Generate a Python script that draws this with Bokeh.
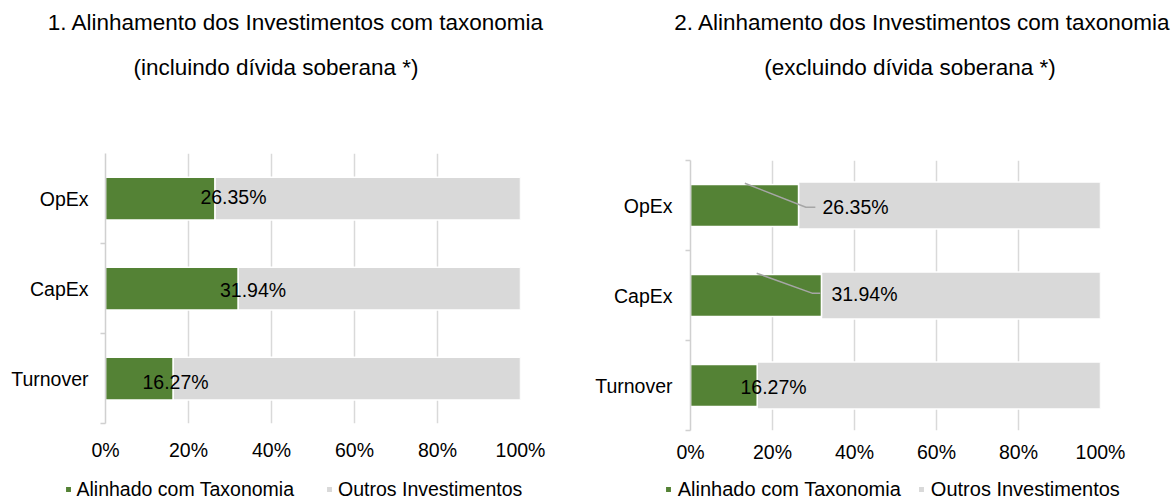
from bokeh.plotting import figure
from bokeh.layouts import row, column
from bokeh.models import (Range1d, FixedTicker, Legend, LegendItem, Spacer,
                          ColumnDataSource, NumeralTickFormatter)
from bokeh.core.properties import value
from bokeh.embed import file_html
from bokeh.resources import INLINE

# ---------------- data ----------------
categories = ["Turnover", "CapEx", "OpEx"]          # bottom -> top
aligned_incl = [16.27, 31.94, 26.35]               # % aligned, chart 1
aligned_excl = [16.27, 31.94, 26.35]               # % aligned, chart 2
series_names = ["Alinhado com Taxonomia", "Outros Investimentos"]
x_ticks = [0, 0.2, 0.4, 0.6, 0.8, 1.0]
titles_1 = ["1. Alinhamento dos Investimentos com taxonomia",
            "(incluindo dívida soberana *)"]
titles_2 = ["2. Alinhamento dos Investimentos com taxonomia",
            "(excluindo dívida soberana *)"]

# ---------------- style / layout ----------------
FONT = "Liberation Sans"
GREEN = "#548235"
GRAY = "#D9D9D9"
AXIS_GRAY = "#D0D0D0"
LEADER = "#A6A6A6"
TOTAL_W = 1172
TITLE_H = 128
CHART_H = 335
CHART2_SHIFT = 7
LEG_H = 28
FRAME_TOP = 25
FRAME_H = 270


def bare_figure(w, h, x_range, y_range):
    f = figure(width=w, height=h, x_range=x_range, y_range=y_range,
               output_backend="svg", toolbar_location=None,
               x_axis_location=None, y_axis_location=None,
               min_border=0)
    f.grid.visible = False
    f.outline_line_color = None
    f.background_fill_color = "white"
    f.border_fill_color = "white"
    return f


def make_chart(aligned, cfg):
    p = figure(width=cfg["width"], height=CHART_H,
               x_range=Range1d(0, 1), y_range=Range1d(0, len(categories)),
               output_backend="svg", toolbar_location=None,
               min_border_left=cfg["bl"],
               min_border_right=cfg["width"] - cfg["bl"] - cfg["frame_w"],
               min_border_top=FRAME_TOP,
               min_border_bottom=CHART_H - FRAME_TOP - FRAME_H)
    p.outline_line_color = None
    p.background_fill_color = "white"
    p.border_fill_color = "white"

    ypos = [i + 0.5 for i in range(len(categories))]
    frac = [v / 100.0 for v in aligned]
    src = ColumnDataSource(dict(
        y=ypos, aligned=frac, total=[1.0] * len(categories),
        label=[f"{v:.2f}%" for v in aligned],
        dx=cfg["lab_dx"], dy=cfg["lab_dy"]))

    p.ygrid.visible = False
    p.xgrid.ticker = FixedTicker(ticks=x_ticks)
    p.xgrid.grid_line_color = GRAY
    p.xgrid.grid_line_width = 1.5

    xa = p.xaxis[0]
    xa.ticker = FixedTicker(ticks=x_ticks)
    xa.formatter = NumeralTickFormatter(format="0%")
    xa.axis_line_color = None
    xa.major_tick_line_color = None
    xa.major_tick_out = 0
    xa.major_tick_in = 0
    xa.minor_tick_line_color = None
    xa.major_label_standoff = cfg["x_standoff"]
    xa.major_label_text_font = FONT
    xa.major_label_text_font_size = "19.5px"
    xa.major_label_text_color = "black"

    ya = p.yaxis[0]
    ya.ticker = FixedTicker(ticks=ypos, minor_ticks=cfg["bounds"])
    ya.major_label_overrides = {y: c for y, c in zip(ypos, categories)}
    ya.axis_line_color = AXIS_GRAY
    ya.axis_line_width = 1.5
    ya.major_tick_line_color = None
    ya.major_tick_out = 0
    ya.major_tick_in = 0
    ya.minor_tick_line_color = AXIS_GRAY
    ya.minor_tick_line_width = 1.5
    ya.minor_tick_out = 5
    ya.minor_tick_in = 0
    ya.major_label_standoff = cfg["y_standoff"]
    ya.major_label_text_font = FONT
    ya.major_label_text_font_size = "19.5px"
    ya.major_label_text_color = "black"

    p.hbar(y="y", left="aligned", right="total", height=cfg["h_gray"],
           fill_color=GRAY, line_color="white", line_width=1.5, source=src)
    p.hbar(y="y", left=0, right="aligned", height=cfg["h_green"],
           fill_color=GREEN, line_color="white", line_width=1.5, source=src)

    for cat, (dxs, dys) in cfg.get("leaders", {}).items():
        i = categories.index(cat)
        p.line(x=[frac[i] + d for d in dxs], y=[ypos[i] + d for d in dys],
               line_color=LEADER, line_width=1.5)

    p.text(x="aligned", y="y", text="label", x_offset="dx", y_offset="dy",
           text_align="center", text_baseline="middle",
           text_font=value(FONT), text_font_size="19.5px", text_color="black",
           source=src)
    return p


cfg1 = dict(width=580, bl=105, frame_w=415,
            h_gray=0.475, h_green=0.475, bounds=[0, 1, 2],
            x_standoff=15, y_standoff=12,
            lab_dx=[2.5, 15, 18.6], lab_dy=[3, 1, -2])

cfg2 = dict(width=TOTAL_W - 580, bl=110, frame_w=410,
            h_gray=0.52, h_green=0.465, bounds=[0, 1, 2, 3],
            x_standoff=10, y_standoff=13,
            lab_dx=[16.3, 43, 57], lab_dy=[1, -2, 1.7],
            leaders={"OpEx": ([-0.131, 0.018, 0.041], [0.248, -0.019, -0.019]),
                     "CapEx": ([-0.158, -0.023, -0.0024], [0.248, 0.026, 0.026])})

p1 = make_chart(aligned_incl, cfg1)
p2 = make_chart(aligned_excl, cfg2)

# ---------------- titles ----------------
tf = bare_figure(TOTAL_W, TITLE_H, Range1d(0, TOTAL_W), Range1d(TITLE_H, 0))
title_src = ColumnDataSource(dict(
    text=titles_1 + titles_2,
    x=[295.5, 275.5, 922, 909.5],
    y=[22, 67, 22, 67]))
tf.text(x="x", y="y", text="text", source=title_src,
        text_align="center", text_baseline="middle",
        text_font=value(FONT), text_font_size="22.5px", text_color="black")

# ---------------- legends ----------------
lf = bare_figure(TOTAL_W, LEG_H, Range1d(0, TOTAL_W), Range1d(0, LEG_H))
# legend carriers: one bar each, placed outside the visible range
g_key = lf.hbar(y=[-100], left=[0], right=[1], height=1, fill_color=GREEN,
                line_color="white", line_width=1.5)
o_key = lf.hbar(y=[-100], left=[0], right=[1], height=1, fill_color=GRAY,
                line_color="white", line_width=1.5)
for loc, fs, so, sp in [((63.5, -2.5), "19.5px", 5, 31),
                        ((663.75, -2.5), "20px", 6, 16)]:
    leg = Legend(items=[LegendItem(label=series_names[0], renderers=[g_key]),
                        LegendItem(label=series_names[1], renderers=[o_key])],
                 orientation="horizontal", location=loc,
                 glyph_width=8, glyph_height=8, label_standoff=so,
                 spacing=sp, padding=0, margin=0,
                 border_line_color=None, background_fill_alpha=0,
                 label_text_font=FONT, label_text_font_size=fs,
                 label_text_color="black", label_height=23)
    lf.add_layout(leg)

layout = column(tf, row(p1, column(Spacer(height=CHART2_SHIFT), p2)), lf)

open("out.html", "w").write(file_html(layout, INLINE))
